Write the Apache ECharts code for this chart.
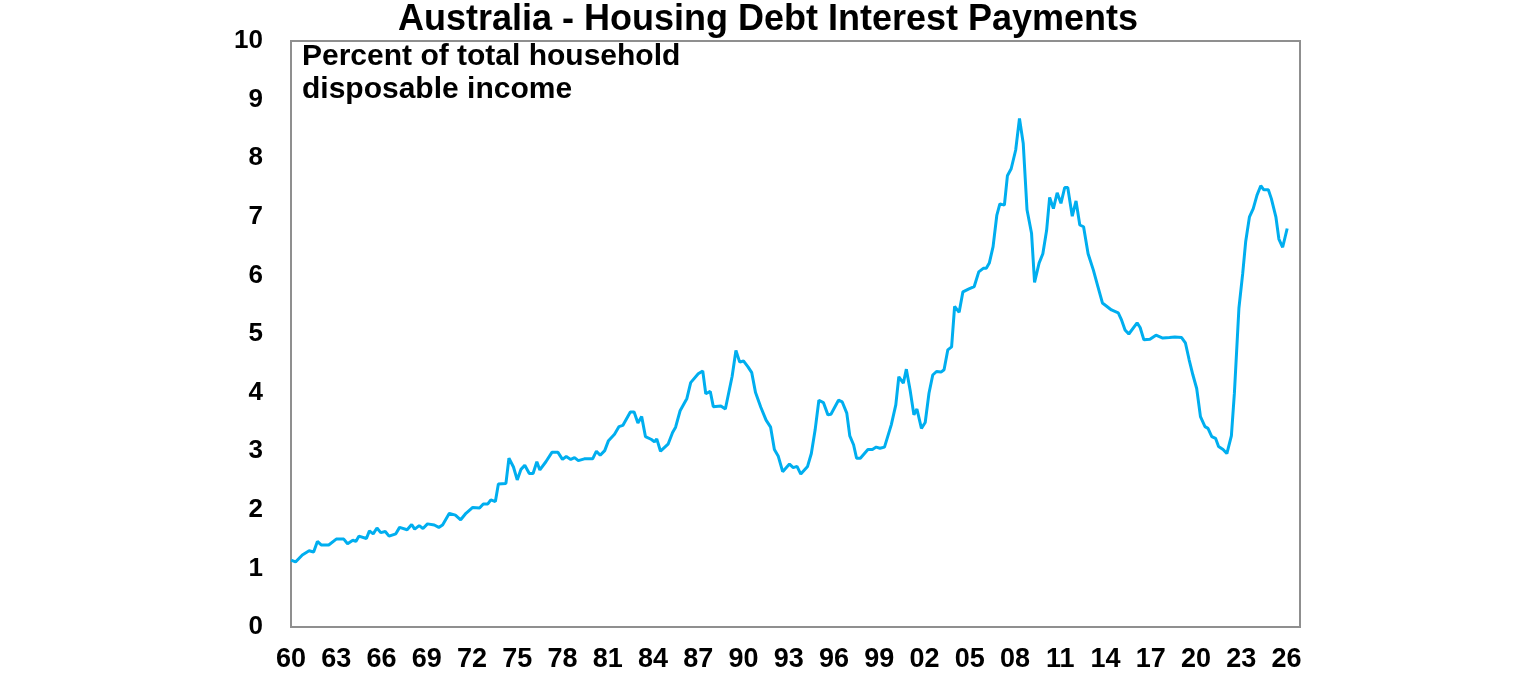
<!DOCTYPE html>
<html>
<head>
<meta charset="utf-8">
<script src="https://cdn.jsdelivr.net/npm/echarts@6/dist/echarts.min.js"></script>
<style>
html,body{margin:0;padding:0;background:#fff;}
#chart{width:1536px;height:680px;}
</style>
</head>
<body>
<div id="chart"></div>
<script>
// Decimal years of each traced point
var years = [
1960.0,1960.3,1960.75,1961.2,1961.5,1961.75,1962.0,1962.5,1963.0,1963.5,1963.75,1964.1,1964.3,1964.5,1965.0,1965.2,1965.45,1965.7,1965.95,1966.25,1966.5,1966.95,1967.2,1967.7,1968.0,1968.2,1968.5,1968.75,1969.05,1969.5,1969.8,
1970.05,1970.5,1970.9,1971.25,1971.6,1972.05,1972.5,1972.75,1973.05,1973.25,1973.55,1973.75,1974.25,1974.45,1974.75,1975.0,1975.25,1975.5,1975.8,1976.05,1976.3,1976.5,1976.9,1977.3,1977.7,1978.0,1978.25,1978.55,1978.8,1979.05,1979.45,
1980.0,1980.25,1980.5,1980.8,1981.05,1981.45,1981.75,1982.0,1982.5,1982.75,1983.0,1983.25,1983.5,1983.9,1984.1,1984.25,1984.5,1985.0,1985.3,1985.5,1985.8,1986.25,1986.5,1987.0,1987.3,1987.5,1987.8,1988.0,1988.5,1988.8,1989.25,1989.5,1989.75,
1990.0,1990.3,1990.55,1990.8,1991.15,1991.5,1991.8,1992.05,1992.3,1992.6,1993.05,1993.3,1993.55,1993.8,1994.25,1994.5,1994.75,1995.0,1995.3,1995.6,1995.8,1996.3,1996.55,1996.85,1997.05,1997.3,1997.5,1997.75,1998.25,1998.55,1998.8,1999.05,1999.35,1999.8,
2000.1,2000.3,2000.6,2000.8,2001.05,2001.3,2001.5,2001.8,2002.05,2002.3,2002.55,2002.8,2003.1,2003.3,2003.55,2003.8,2004.0,2004.3,2004.55,2004.95,2005.3,2005.6,2005.9,2006.1,2006.3,2006.55,2006.8,2007.0,2007.3,2007.5,2007.75,2008.05,2008.3,2008.55,2008.8,2009.1,2009.3,2009.6,2009.85,
2010.1,2010.3,2010.55,2010.8,2011.05,2011.3,2011.5,2011.8,2012.05,2012.3,2012.55,2012.85,2013.2,2013.5,2013.8,2014.4,2014.85,2015.05,2015.3,2015.55,2016.1,2016.3,2016.55,2016.95,2017.35,2017.8,2018.25,2018.6,2019.05,2019.3,2019.55,2019.8,
2020.05,2020.3,2020.6,2020.8,2021.05,2021.3,2021.5,2021.8,2022.05,2022.35,2022.55,2022.85,2023.1,2023.3,2023.55,2023.8,2024.05,2024.3,2024.5,2024.8,2025.0,2025.3,2025.5,2025.75,2026.05
];
// Housing debt interest payments, % of household disposable income
var values = [
1.14,1.11,1.23,1.30,1.28,1.46,1.40,1.40,1.50,1.50,1.42,1.48,1.46,1.55,1.51,1.64,1.59,1.69,1.61,1.63,1.55,1.59,1.70,1.66,1.75,1.67,1.73,1.68,1.76,1.74,1.70,
1.74,1.94,1.91,1.83,1.94,2.04,2.03,2.10,2.10,2.17,2.14,2.44,2.45,2.88,2.73,2.51,2.69,2.76,2.62,2.62,2.82,2.68,2.82,2.98,2.98,2.86,2.91,2.86,2.89,2.84,2.87,
2.87,3.00,2.93,3.01,3.18,3.29,3.42,3.44,3.67,3.67,3.48,3.59,3.25,3.20,3.16,3.21,3.00,3.12,3.32,3.41,3.69,3.90,4.17,4.32,4.37,3.98,4.02,3.76,3.77,3.72,4.28,4.72,4.52,
4.54,4.44,4.34,4.00,3.75,3.53,3.41,3.03,2.92,2.65,2.78,2.72,2.74,2.61,2.74,2.96,3.36,3.87,3.83,3.62,3.63,3.87,3.84,3.65,3.26,3.11,2.88,2.88,3.03,3.03,3.07,3.05,3.07,3.45,
3.79,4.27,4.16,4.40,4.04,3.62,3.72,3.39,3.49,3.99,4.30,4.36,4.35,4.39,4.73,4.78,5.47,5.37,5.72,5.77,5.81,6.06,6.12,6.12,6.21,6.49,7.03,7.22,7.20,7.70,7.82,8.14,8.68,8.25,7.12,6.72,5.88,6.21,6.37,
6.77,7.33,7.14,7.41,7.23,7.50,7.50,7.01,7.27,6.86,6.83,6.37,6.09,5.81,5.53,5.41,5.36,5.25,5.07,5.00,5.19,5.11,4.90,4.91,4.98,4.93,4.94,4.95,4.94,4.85,4.56,4.30,
4.07,3.59,3.42,3.39,3.25,3.22,3.08,3.03,2.96,3.26,3.99,5.44,6.03,6.58,7.00,7.14,7.37,7.53,7.46,7.46,7.31,7.00,6.62,6.48,6.80
];
var baseYear = 1960;
var titleText = 'Australia - Housing Debt Interest Payments';
var noteLines = ['Percent of total household', 'disposable income'];

var chart = echarts.init(document.getElementById('chart'), null, {renderer: 'canvas'});
var FONT = '"Liberation Sans", Arial, sans-serif';
chart.setOption({
  animation: false,
  backgroundColor: '#ffffff',
  title: {
    text: titleText,
    left: 'center',
    top: 2,
    padding: 0,
    textStyle: {fontFamily: FONT, fontWeight: 'bold', fontSize: 36, color: '#000'}
  },
  graphic: [{
    type: 'text',
    left: 302,
    top: 40,
    style: {
      text: noteLines.join('\n'),
      fontFamily: FONT, fontWeight: 'bold', fontSize: 30, lineHeight: 33, fill: '#000'
    }
  }],
  grid: {
    left: 291, right: 236, top: 41, bottom: 53,
    show: true, borderColor: '#8f8f8f', borderWidth: 2, backgroundColor: 'transparent'
  },
  xAxis: {
    type: 'value',
    min: 0, max: 66.9, interval: 3,
    axisLine: {show: false},
    axisTick: {show: false},
    splitLine: {show: false},
    axisLabel: {
      showMaxLabel: false,
      margin: 19,
      fontFamily: FONT, fontWeight: 'bold', fontSize: 27, color: '#000',
      formatter: function (v) {
        if (Math.abs(v % 3) > 1e-6) return '';
        var y = (baseYear + v) % 100;
        return (y < 10 ? '0' : '') + y;
      }
    }
  },
  yAxis: {
    type: 'value',
    min: 0, max: 10, interval: 1,
    axisLine: {show: false},
    axisTick: {show: false},
    splitLine: {show: false},
    axisLabel: {margin: 28, fontFamily: FONT, fontWeight: 'bold', fontSize: 26, color: '#000'}
  },
  series: [{
    type: 'line',
    data: years.map(function (y, i) { return [y - baseYear, values[i]]; }),
    showSymbol: false,
    symbol: 'none',
    lineStyle: {color: '#00AEEF', width: 3},
    itemStyle: {color: '#00AEEF'}
  }]
});
</script>
</body>
</html>
